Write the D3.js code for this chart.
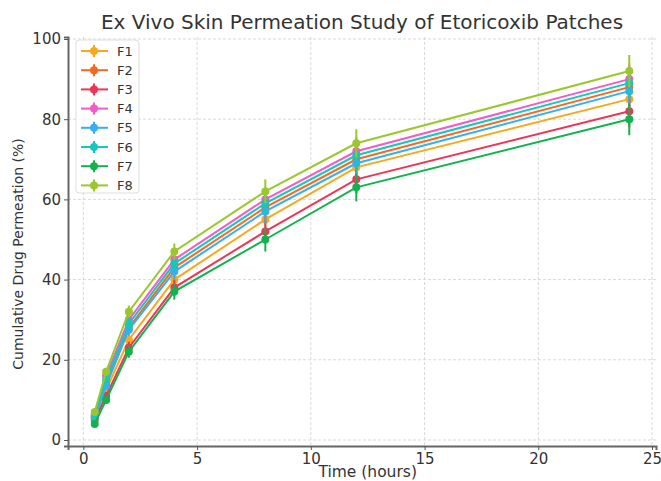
<!DOCTYPE html>
<html>
<head>
<meta charset="utf-8">
<script src="https://cdn.jsdelivr.net/npm/d3@7"></script>
<style>
  body { margin: 0; background: #fff; }
  svg { font-family: "DejaVu Sans", sans-serif; }
</style>
</head>
<body>
<svg width="661" height="481"></svg>
<script>
const times = [0.5, 1, 2, 4, 8, 12, 24];
const names = ["F1", "F2", "F3", "F4", "F5", "F6", "F7", "F8"];
const F1 = [5.5, 12.5, 25, 40, 55, 68, 85];
const F2 = [6, 14, 28, 43, 58, 70, 88];
const F3 = [5, 11, 23, 38, 52, 65, 82];
const F4 = [6.5, 16, 30, 45, 60, 72, 90];
const F5 = [5.5, 13.5, 27.5, 42, 57, 69, 87];
const F6 = [6, 15, 29, 44, 59, 71, 89];
const F7 = [4, 10, 22, 37, 50, 63, 80];
const F8 = [7, 17, 32, 47, 62, 74, 92];
const errors = [0.5, 1, 1.5, 2, 3, 3.5, 4];
const colors = ["#f9a81c", "#f7681f", "#ec3658", "#f25cc4", "#36aff2", "#16c7bd", "#12b34e", "#9ac72c"];
const xTicks = [0, 5, 10, 15, 20, 25];
const yTicks = [0, 20, 40, 60, 80, 100];

const series = [F1, F2, F3, F4, F5, F6, F7, F8];

const plotLeft = 68, plotRight = 656, plotTop = 37, plotBottom = 446;

const svg = d3.select("svg");

const x = d3.scaleLinear().domain([-0.675, 25.175]).range([plotLeft, plotRight]);
const y = d3.scaleLinear().domain([-1.5, 100.5]).range([plotBottom, plotTop]);

// grid
svg.append("g")
  .selectAll("line")
  .data(xTicks)
  .join("line")
  .attr("x1", d => x(d)).attr("x2", d => x(d))
  .attr("y1", plotTop).attr("y2", plotBottom)
  .attr("stroke", "#cfcfcf").attr("stroke-dasharray", "3,2").attr("stroke-width", 0.8);

svg.append("g")
  .selectAll("line")
  .data(yTicks)
  .join("line")
  .attr("x1", plotLeft).attr("x2", plotRight)
  .attr("y1", d => y(d)).attr("y2", d => y(d))
  .attr("stroke", "#cfcfcf").attr("stroke-dasharray", "3,2").attr("stroke-width", 0.8);

// axes
const xAxis = svg.append("g")
  .attr("transform", "translate(0," + plotBottom + ")")
  .call(d3.axisBottom(x).tickValues(xTicks).tickSize(4).tickPadding(3));
const yAxis = svg.append("g")
  .attr("transform", "translate(" + plotLeft + ",0)")
  .call(d3.axisLeft(y).tickValues(yTicks).tickSize(4).tickPadding(3));

[xAxis, yAxis].forEach(g => {
  g.select(".domain").attr("stroke", "#666").attr("stroke-width", 2);
  g.selectAll(".tick line").attr("stroke", "#555").attr("stroke-width", 1);
  g.selectAll(".tick text").attr("fill", "#333").style("font-size", "15px")
    .style("font-family", "DejaVu Sans");
});

// series
const line = d3.line().x((d, i) => x(times[i])).y(d => y(d));

series.forEach((vals, k) => {
  const g = svg.append("g");
  g.selectAll(".err")
    .data(vals)
    .join("line")
    .attr("x1", (d, i) => x(times[i])).attr("x2", (d, i) => x(times[i]))
    .attr("y1", (d, i) => y(d - errors[i])).attr("y2", (d, i) => y(d + errors[i]))
    .attr("stroke", colors[k]).attr("stroke-width", 2);
  g.append("path")
    .datum(vals)
    .attr("d", line)
    .attr("fill", "none")
    .attr("stroke", colors[k])
    .attr("stroke-width", 2);
  g.selectAll("circle")
    .data(vals)
    .join("circle")
    .attr("cx", (d, i) => x(times[i]))
    .attr("cy", d => y(d))
    .attr("r", 4)
    .attr("fill", colors[k]);
});

// title and labels
svg.append("text")
  .attr("x", 362).attr("y", 29)
  .attr("text-anchor", "middle")
  .attr("fill", "#333")
  .style("font-size", "20px")
  .text("Ex Vivo Skin Permeation Study of Etoricoxib Patches");

svg.append("text")
  .attr("x", x(12.5)).attr("y", 477)
  .attr("text-anchor", "middle")
  .attr("fill", "#333")
  .style("font-size", "15.5px")
  .text("Time (hours)");

svg.append("text")
  .attr("transform", "translate(23,254) rotate(-90)")
  .attr("text-anchor", "middle")
  .attr("fill", "#333")
  .style("font-size", "14px")
  .text("Cumulative Drug Permeation (%)");

// legend
const legend = svg.append("g").attr("transform", "translate(76,40)");
legend.append("rect")
  .attr("width", 63).attr("height", 153).attr("rx", 3)
  .attr("fill", "#fff").attr("fill-opacity", 0.85)
  .attr("stroke", "#ddd");

names.forEach((n, k) => {
  const ly = 11 + k * 19.2;
  const item = legend.append("g").attr("transform", "translate(0," + ly + ")");
  item.append("line").attr("x1", 5).attr("x2", 32).attr("y1", 0).attr("y2", 0)
    .attr("stroke", colors[k]).attr("stroke-width", 2);
  item.append("line").attr("x1", 18).attr("x2", 18).attr("y1", -6).attr("y2", 6)
    .attr("stroke", colors[k]).attr("stroke-width", 2);
  item.append("circle").attr("cx", 18).attr("cy", 0).attr("r", 4).attr("fill", colors[k]);
  item.append("text").attr("x", 41).attr("y", 4.5)
    .attr("fill", "#333").style("font-size", "13px").text(n);
});
</script>
</body>
</html>
